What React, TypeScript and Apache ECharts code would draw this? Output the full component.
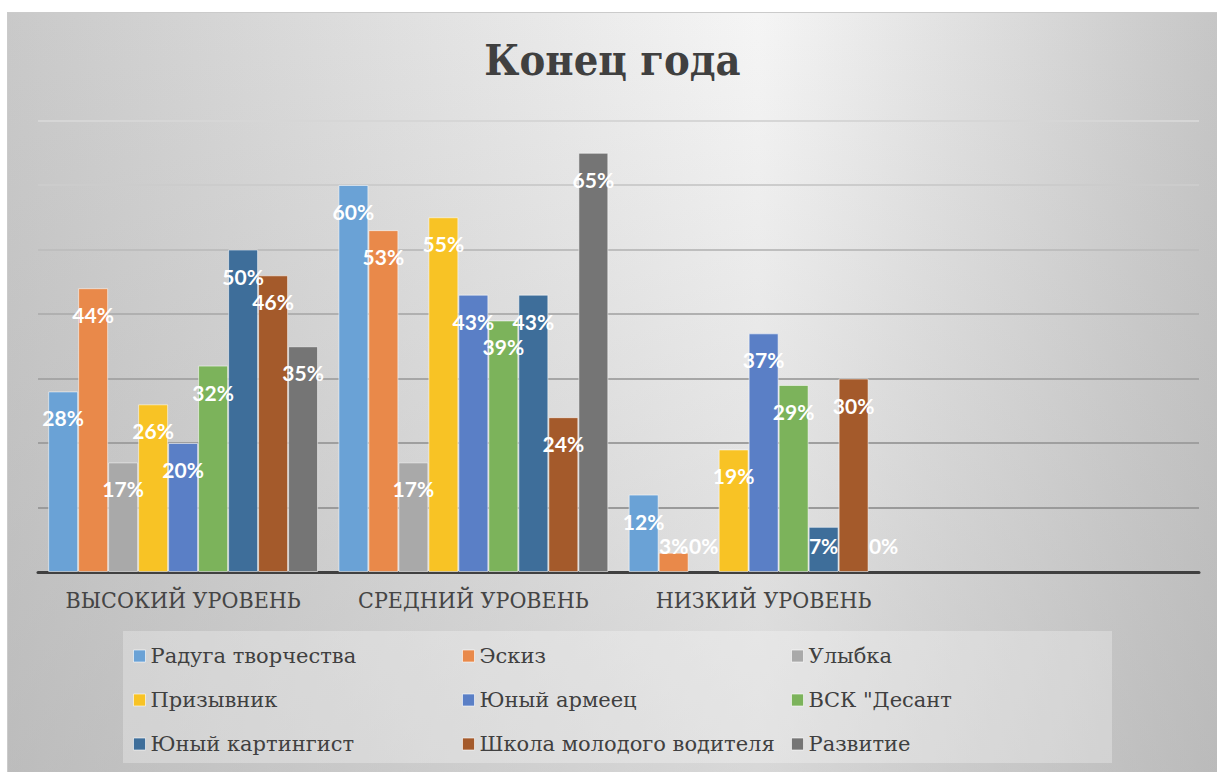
import React, { useEffect, useRef } from "react";
import * as echarts from "echarts";

const categories = ["ВЫСОКИЙ УРОВЕНЬ", "СРЕДНИЙ УРОВЕНЬ", "НИЗКИЙ УРОВЕНЬ", ""];
const seriesNames = [
  "Радуга творчества",
  "Эскиз",
  "Улыбка",
  "Призывник",
  "Юный армеец",
  'ВСК "Десант',
  "Юный картингист",
  "Школа молодого водителя",
  "Развитие",
];
const raduga = [28, 60, 12];
const eskiz = [44, 53, 3];
const ulybka = [17, 17, 0];
const prizyvnik = [26, 55, 19];
const armeets = [20, 43, 37];
const desant = [32, 39, 29];
const kartingist = [50, 43, 7];
const shkola = [46, 24, 30];
const razvitie = [35, 65, 0];
const seriesValues = [raduga, eskiz, ulybka, prizyvnik, armeets, desant, kartingist, shkola, razvitie];
const colors = ["#6aa2d6", "#e9894a", "#a9a9a9", "#f8c325", "#5a7fc6", "#7cb35b", "#3e6e9a", "#a45a2b", "#757575"];
const legendColumns = [
  ["Радуга творчества", "Призывник", "Юный картингист"],
  ["Эскиз", "Юный армеец", "Школа молодого водителя"],
  ["Улыбка", 'ВСК "Десант', "Развитие"],
];
const yMax = 70;
const yInterval = 10;

export default function App() {
  const ref = useRef<HTMLDivElement>(null);
  useEffect(() => {
    document.body.style.margin = "0";
    document.body.style.background = "#ffffff";
    const chart = echarts.init(ref.current!, undefined, { renderer: "svg" });
    const legendLefts = [125, 454, 783];
    const option: any = {
      animation: false,
      backgroundColor: {
        type: "linear", x: 0, y: 0, x2: 1, y2: 0,
        colorStops: [
          { offset: 0, color: "#c9c9c9" },
          { offset: 0.62, color: "#f5f5f5" },
          { offset: 1, color: "#c6c6c6" },
        ],
      },
      graphic: [
        {
          type: "rect", z: -10, silent: true,
          shape: { x: 0, y: 0, width: 1209, height: 759 },
          style: {
            fill: {
              type: "linear", x: 0, y: 0, x2: 0, y2: 1,
              colorStops: [
                { offset: 0, color: "rgba(168,168,168,0)" },
                { offset: 1, color: "rgba(168,168,168,0.38)" },
              ],
            },
          },
        },
        {
          type: "rect", z: -5, silent: true,
          shape: { x: 115, y: 618, width: 989, height: 132 },
          style: { fill: "rgba(255,255,255,0.28)" },
        },
      ],
      title: {
        text: "Конец года",
        left: "center",
        top: 20,
        textStyle: { fontFamily: "DejaVu Serif Condensed", fontSize: 43, fontWeight: "bold", color: "#404040" },
      },
      grid: { left: 30, right: 18, top: 107.5, bottom: 200, containLabel: false },
      xAxis: {
        type: "category",
        data: categories,
        axisLine: { lineStyle: { color: "#404040", width: 3 } },
        axisTick: { show: false },
        axisLabel: { interval: 0, fontFamily: "DejaVu Serif Condensed", fontSize: 23, color: "#454545", margin: 16 },
      },
      yAxis: {
        type: "value",
        min: 0,
        max: yMax,
        interval: yInterval,
        axisLabel: { show: false },
        axisLine: { show: false },
        axisTick: { show: false },
        splitLine: {
          lineStyle: {
            width: 2,
            color: ["#404040", "#9a9a9a", "#9f9f9f", "#a6a6a6", "#b0b0b0", "#bebebe", "#cccccc", "#d6d6d6"],
          },
        },
      },
      legend: legendColumns.map((col, i) => ({
        orient: "vertical",
        left: legendLefts[i],
        top: 631,
        padding: 0,
        itemGap: 20,
        itemWidth: 12,
        itemHeight: 12,
        itemStyle: { borderColor: "rgba(255,255,255,0.6)", borderWidth: 1 },
        icon: "rect",
        data: col,
        selectedMode: false,
        textStyle: { fontFamily: "DejaVu Serif", fontSize: 21, lineHeight: 24, color: "#404040" },
      })),
      series: seriesNames.map((name, i) => ({
        name,
        type: "bar",
        barGap: "0%",
        barCategoryGap: "7%",
        itemStyle: { color: colors[i], borderColor: "rgba(255,255,255,0.55)", borderWidth: 1 },
        label: {
          show: true,
          position: "insideTop",
          distance: 16,
          formatter: (p: any) => `${p.value}%`,
          fontFamily: "Lato",
          fontWeight: "bold",
          fontSize: 21,
          color: "#ffffff",
        },
        data: seriesValues[i].map((v) =>
          v < 9
            ? {
                value: v,
                label: { position: "insideBottom", distance: 16 },
                itemStyle: v === 0 ? { borderWidth: 0 } : undefined,
              }
            : v
        ),
      })),
    };
    chart.setOption(option);
    return () => chart.dispose();
  }, []);
  return (
    <div
      style={{
        position: "absolute",
        left: 7,
        top: 12,
        borderTop: "1px solid #cbcbcb",
        borderLeft: "1px solid #cbcbcb",
      }}
    >
      <div ref={ref} style={{ width: 1209, height: 759 }} />
    </div>
  );
}
